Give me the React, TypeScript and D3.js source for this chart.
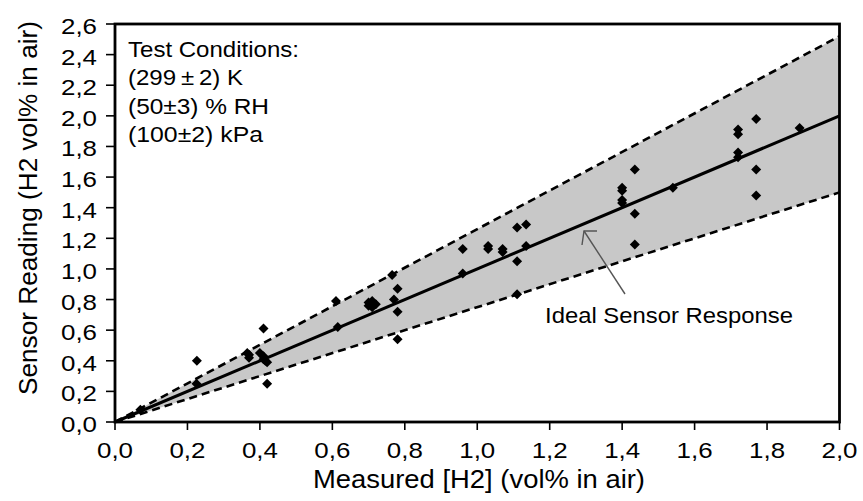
import React from "react";
import * as d3 from "d3";

const measured = [
  0.07, 0.225, 0.226, 0.365, 0.37, 0.37, 0.4, 0.41, 0.41, 0.42, 0.415, 0.41, 0.42,
  0.61, 0.615, 0.7, 0.7, 0.71, 0.72, 0.71, 0.765, 0.78, 0.77, 0.78, 0.78,
  0.96, 0.96, 1.03, 1.03, 1.07, 1.07, 1.11, 1.135, 1.135, 1.11, 1.11,
  1.4, 1.4, 1.4, 1.4, 1.435, 1.435, 1.435, 1.54,
  1.72, 1.72, 1.72, 1.72, 1.77, 1.77, 1.77, 1.89,
];
const reading = [
  0.08, 0.25, 0.4, 0.45, 0.42, 0.44, 0.45, 0.43, 0.41, 0.39, 0.4, 0.61, 0.25,
  0.79, 0.62, 0.76, 0.78, 0.79, 0.77, 0.75, 0.96, 0.87, 0.8, 0.72, 0.54,
  1.13, 0.97, 1.15, 1.13, 1.13, 1.11, 1.27, 1.29, 1.15, 1.05, 0.835,
  1.53, 1.51, 1.45, 1.43, 1.65, 1.36, 1.16, 1.53,
  1.88, 1.91, 1.73, 1.76, 1.98, 1.65, 1.48, 1.92,
];
const xTicks = [0, 0.2, 0.4, 0.6, 0.8, 1.0, 1.2, 1.4, 1.6, 1.8, 2.0];
const yTicks = [0, 0.2, 0.4, 0.6, 0.8, 1.0, 1.2, 1.4, 1.6, 1.8, 2.0, 2.2, 2.4, 2.6];
const upperSlope = 1.26;
const lowerSlope = 0.75;
const idealSlope = 1.0;
const conditions = ["Test Conditions:", "(299\u2009±\u20092) K", "(50±3) % RH", "(100±2) kPa"];
const conditionWidths = [171, 115, 141, 135];

const W = 863;
const H = 501;
const FONT = "Arial, 'Liberation Sans', Helvetica, sans-serif";

export default function App() {
  const x = d3.scaleLinear().domain([0, 2]).range([115, 839.5]);
  const y = d3.scaleLinear().domain([0, 2.6]).range([422, 24]);
  const fmt = (v: number) => v.toFixed(1).replace(".", ",");
  const xMax = 2;
  const line = d3.line<[number, number]>().x((d) => x(d[0])).y((d) => y(d[1]));
  const band = line([
    [0, 0],
    [xMax, xMax * upperSlope],
    [xMax, xMax * lowerSlope],
    [0, 0],
  ]) as string;
  const upper = line([[0, 0], [xMax, xMax * upperSlope]]) as string;
  const lower = line([[0, 0], [xMax, xMax * lowerSlope]]) as string;
  const ideal = line([[0, 0], [xMax, xMax * idealSlope]]) as string;
  const diamond = d3.symbol().type(d3.symbolSquare).size(50)() as string;

  return (
    <svg width={W} height={H} style={{ display: "block", position: "absolute", left: 0, top: 0 }} fontFamily={FONT}>
      <rect x={0} y={0} width={W} height={H} fill="#fff" />
      <path d={band} fill="#c8c8c8" stroke="none" />
      <path d={upper} fill="none" stroke="#000" strokeWidth={2.6} strokeDasharray="8 5" />
      <path d={lower} fill="none" stroke="#000" strokeWidth={2.6} strokeDasharray="8 5" />
      <path d={ideal} fill="none" stroke="#000" strokeWidth={3} />
      {measured.map((m, i) => (
        <path key={i} d={diamond} transform={`translate(${x(m)},${y(reading[i])}) rotate(45)`} fill="#000" />
      ))}
      <rect x={x(0)} y={y(2.6)} width={x(2) - x(0)} height={y(0) - y(2.6)} fill="none" stroke="#000" strokeWidth={2.8} />
      {yTicks.map((t) => (
        <g key={"y" + t}>
          <line x1={x(0) - 9} x2={x(0)} y1={y(t)} y2={y(t)} stroke="#000" strokeWidth={1.6} />
          <text x={97} y={y(t) + 10} textAnchor="end" fontSize={21.5} textLength={36} lengthAdjust="spacingAndGlyphs" fill="#000">
            {fmt(t)}
          </text>
        </g>
      ))}
      {xTicks.map((t) => (
        <g key={"x" + t}>
          <line x1={x(t)} x2={x(t)} y1={y(0)} y2={y(0) + 8} stroke="#000" strokeWidth={1.6} />
          <text x={x(t) - 18} y={458} fontSize={21.5} textLength={36} lengthAdjust="spacingAndGlyphs" fill="#000">
            {fmt(t)}
          </text>
        </g>
      ))}
      {conditions.map((c, i) => (
        <text key={c} x={128} y={57 + i * 28.3} fontSize={22.5} textLength={conditionWidths[i]} lengthAdjust="spacingAndGlyphs" fill="#000">
          {c}
        </text>
      ))}
      <text x={545} y={323} fontSize={21.5} textLength={248} lengthAdjust="spacingAndGlyphs" fill="#000">
        Ideal Sensor Response
      </text>
      <line x1={625} y1={294} x2={584} y2={231} stroke="#555" strokeWidth={1.4} />
      <polyline points="597,231 584,231 582,245" fill="none" stroke="#555" strokeWidth={1.4} />
      <text x={313} y={488} fontSize={25} textLength={332} lengthAdjust="spacingAndGlyphs" fill="#000">
        Measured [H2] (vol% in air)
      </text>
      <text
        transform={`translate(37,${208}) rotate(-90)`}
        textAnchor="middle"
        fontSize={25.5}
        textLength={374}
        lengthAdjust="spacingAndGlyphs"
        fill="#000"
      >
        Sensor Reading (H2 vol% in air)
      </text>
    </svg>
  );
}
